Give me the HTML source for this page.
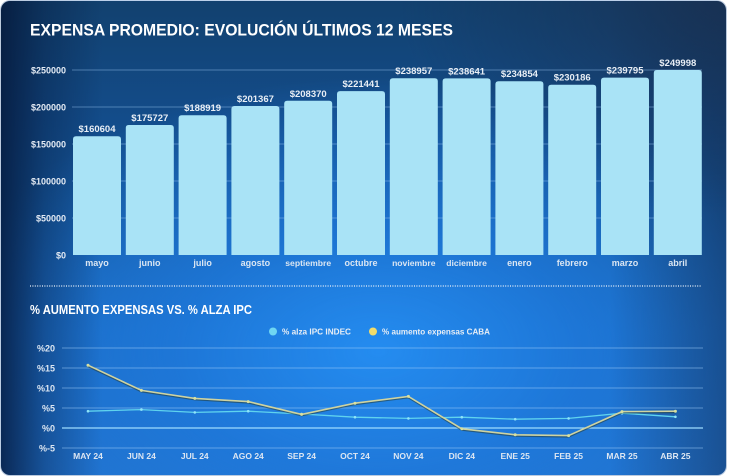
<!DOCTYPE html>
<html><head><meta charset="utf-8"><style>
html,body{margin:0;padding:0;background:#fff;}
.card{position:absolute;left:0;top:0;width:727px;height:476px;border-radius:10px;overflow:hidden;
border:1px solid rgba(205,218,236,0.9);box-sizing:border-box;
background:
radial-gradient(ellipse 45% 45% at 100% 0%, rgba(26,48,80,0.75) 0%, rgba(26,48,80,0.35) 50%, rgba(26,48,80,0) 100%),
linear-gradient(to right, rgba(4,22,55,0.8) 0%, rgba(4,22,55,0.35) 6%, rgba(4,22,55,0) 14%, rgba(0,0,0,0) 84%, rgba(18,40,75,0.45) 100%),
radial-gradient(ellipse 62% 58% at 52% 74%, rgba(36,140,240,1) 0%, rgba(30,122,222,0.75) 45%, rgba(25,100,190,0) 100%),
linear-gradient(to bottom, #12416f 0%, #134c8a 25%, #16599f 45%, #1b6ac0 70%, #2272cc 100%);}
svg{position:absolute;left:0;top:0;}
text{font-family:"Liberation Sans",sans-serif;font-weight:bold;}
</style></head><body>
<div class="card"></div>
<svg width="730" height="471" viewBox="0 0 730 471" xmlns="http://www.w3.org/2000/svg">
<text x="30" y="35.5" font-size="17" fill="#ffffff" textLength="423" lengthAdjust="spacingAndGlyphs">EXPENSA PROMEDIO: EVOLUCIÓN ÚLTIMOS 12 MESES</text>

<g stroke="rgba(150,195,240,0.45)" stroke-width="1">
<line x1="72" y1="70" x2="702" y2="70"/>
<line x1="72" y1="107" x2="702" y2="107"/>
<line x1="72" y1="144" x2="702" y2="144"/>
<line x1="72" y1="181" x2="702" y2="181"/>
<line x1="72" y1="218" x2="702" y2="218"/>
</g>
<g font-size="9" fill="#e4ebf4" text-anchor="end">
<text x="66" y="73.5">$250000</text>
<text x="66" y="110.5">$200000</text>
<text x="66" y="147.5">$150000</text>
<text x="66" y="184.5">$100000</text>
<text x="66" y="221.5">$50000</text>
<text x="66" y="258.5">$0</text>
</g>
<g fill="#a9e3f6">
<path d="M73,255V139.2Q73,136.2 76,136.2H118Q121,136.2 121,139.2V255Z"/>
<path d="M125.8,255V128Q125.8,125 128.8,125H170.8Q173.8,125 173.8,128V255Z"/>
<path d="M178.6,255V118.2Q178.6,115.2 181.6,115.2H223.6Q226.6,115.2 226.6,118.2V255Z"/>
<path d="M231.4,255V109Q231.4,106 234.4,106H276.4Q279.4,106 279.4,109V255Z"/>
<path d="M284.2,255V103.8Q284.2,100.8 287.2,100.8H329.2Q332.2,100.8 332.2,103.8V255Z"/>
<path d="M337,255V94.1Q337,91.1 340,91.1H382Q385,91.1 385,94.1V255Z"/>
<path d="M389.8,255V81.2Q389.8,78.2 392.8,78.2H434.8Q437.8,78.2 437.8,81.2V255Z"/>
<path d="M442.6,255V81.4Q442.6,78.4 445.6,78.4H487.6Q490.6,78.4 490.6,81.4V255Z"/>
<path d="M495.4,255V84.2Q495.4,81.2 498.4,81.2H540.4Q543.4,81.2 543.4,84.2V255Z"/>
<path d="M548.2,255V87.7Q548.2,84.7 551.2,84.7H593.2Q596.2,84.7 596.2,87.7V255Z"/>
<path d="M601,255V80.6Q601,77.6 604,77.6H646Q649,77.6 649,80.6V255Z"/>
<path d="M653.8,255V73Q653.8,70 656.8,70H698.8Q701.8,70 701.8,73V255Z"/>
</g>
<g font-size="9.5" fill="#e8eef5" text-anchor="middle">
<text x="97" y="132.2">$160604</text>
<text x="149.8" y="121">$175727</text>
<text x="202.6" y="111.2">$188919</text>
<text x="255.4" y="102">$201367</text>
<text x="308.2" y="96.8">$208370</text>
<text x="361" y="87.1">$221441</text>
<text x="413.8" y="74.2">$238957</text>
<text x="466.6" y="74.4">$238641</text>
<text x="519.4" y="77.2">$234854</text>
<text x="572.2" y="80.7">$230186</text>
<text x="625" y="73.6">$239795</text>
<text x="677.8" y="66">$249998</text>
</g>
<g font-size="9" fill="#dbe6f2" text-anchor="middle">
<text x="97" y="266">mayo</text>
<text x="149.8" y="266">junio</text>
<text x="202.6" y="266">julio</text>
<text x="255.4" y="266">agosto</text>
<text x="308.2" y="266" font-size="8.6">septiembre</text>
<text x="361" y="266">octubre</text>
<text x="413.8" y="266" font-size="8.6">noviembre</text>
<text x="466.6" y="266" font-size="8.6">diciembre</text>
<text x="519.4" y="266">enero</text>
<text x="572.2" y="266">febrero</text>
<text x="625" y="266">marzo</text>
<text x="677.8" y="266">abril</text>
</g>
<line x1="30" y1="286" x2="702" y2="286" stroke="#eef4fb" stroke-width="1.2" stroke-dasharray="1 1.4"/>

<text x="30" y="314" font-size="12.5" fill="#ffffff" textLength="222" lengthAdjust="spacingAndGlyphs">% AUMENTO EXPENSAS VS. % ALZA IPC</text>

<circle cx="273" cy="331.5" r="4" fill="#6fd6f2"/>
<text x="282" y="334.5" font-size="8" fill="#e8eef5" textLength="69" lengthAdjust="spacingAndGlyphs">% alza IPC INDEC</text>
<circle cx="373" cy="331.5" r="4" fill="#f2dc6a"/>
<text x="382" y="334.5" font-size="8" fill="#e8eef5" textLength="108" lengthAdjust="spacingAndGlyphs">% aumento expensas CABA</text>

<g stroke="rgba(160,205,250,0.5)" stroke-width="1">
<line x1="62" y1="348" x2="703" y2="348"/>
<line x1="62" y1="368" x2="703" y2="368"/>
<line x1="62" y1="388" x2="703" y2="388"/>
<line x1="62" y1="408" x2="703" y2="408"/>
<line x1="62" y1="448" x2="703" y2="448"/>
</g>
<line x1="62" y1="428" x2="703" y2="428" stroke="#9ddcff" stroke-width="1.2"/>
<g font-size="9" fill="#dce6f2" text-anchor="end">
<text x="55" y="351.5">%20</text>
<text x="55" y="371.5">%15</text>
<text x="55" y="391.5">%10</text>
<text x="55" y="411.5">%5</text>
<text x="55" y="431.5">%0</text>
<text x="55" y="451.5">%-5</text>
</g>
<g font-size="8.5" fill="#dce6f2" text-anchor="middle">
<text x="88" y="459">MAY 24</text>
<text x="141.4" y="459">JUN 24</text>
<text x="194.8" y="459">JUL 24</text>
<text x="248.2" y="459">AGO 24</text>
<text x="301.6" y="459">SEP 24</text>
<text x="355" y="459">OCT 24</text>
<text x="408.4" y="459">NOV 24</text>
<text x="461.8" y="459">DIC 24</text>
<text x="515.2" y="459">ENE 25</text>
<text x="568.6" y="459">FEB 25</text>
<text x="622" y="459">MAR 25</text>
<text x="675.4" y="459">ABR 25</text>
</g>
<polyline fill="none" stroke="#5fd3ee" stroke-width="1.3" points="88,411.2 141.4,409.6 194.8,412.4 248.2,411.2 301.6,414 355,417.2 408.4,418.4 461.8,417.2 515.2,419.2 568.6,418.4 622,413.2 675.4,416.8"/>
<g fill="#8fe4f8">
<circle cx="88" cy="411.2" r="1.3"/><circle cx="141.4" cy="409.6" r="1.3"/><circle cx="194.8" cy="412.4" r="1.3"/><circle cx="248.2" cy="411.2" r="1.3"/><circle cx="301.6" cy="414" r="1.3"/><circle cx="355" cy="417.2" r="1.3"/><circle cx="408.4" cy="418.4" r="1.3"/><circle cx="461.8" cy="417.2" r="1.3"/><circle cx="515.2" cy="419.2" r="1.3"/><circle cx="568.6" cy="418.4" r="1.3"/><circle cx="622" cy="413.2" r="1.3"/><circle cx="675.4" cy="416.8" r="1.3"/>
</g>
<polyline fill="none" stroke="rgba(40,60,50,0.55)" stroke-width="2" transform="translate(0,1)" points="88,365.2 141.4,390.4 194.8,398.4 248.2,401.6 301.6,414.4 355,403.2 408.4,396.4 461.8,428.8 515.2,434.8 568.6,435.6 622,411.6 675.4,411.2"/>
<polyline fill="none" stroke="#cfd3a0" stroke-width="1.6" points="88,365.2 141.4,390.4 194.8,398.4 248.2,401.6 301.6,414.4 355,403.2 408.4,396.4 461.8,428.8 515.2,434.8 568.6,435.6 622,411.6 675.4,411.2"/>
<g fill="#d8e0a0">
<circle cx="88" cy="365.2" r="1.5"/><circle cx="141.4" cy="390.4" r="1.5"/><circle cx="194.8" cy="398.4" r="1.5"/><circle cx="248.2" cy="401.6" r="1.5"/><circle cx="301.6" cy="414.4" r="1.5"/><circle cx="355" cy="403.2" r="1.5"/><circle cx="408.4" cy="396.4" r="1.5"/><circle cx="461.8" cy="428.8" r="1.5"/><circle cx="515.2" cy="434.8" r="1.5"/><circle cx="568.6" cy="435.6" r="1.5"/><circle cx="622" cy="411.6" r="1.5"/><circle cx="675.4" cy="411.2" r="1.5"/>
</g>
</svg>
</body></html>
